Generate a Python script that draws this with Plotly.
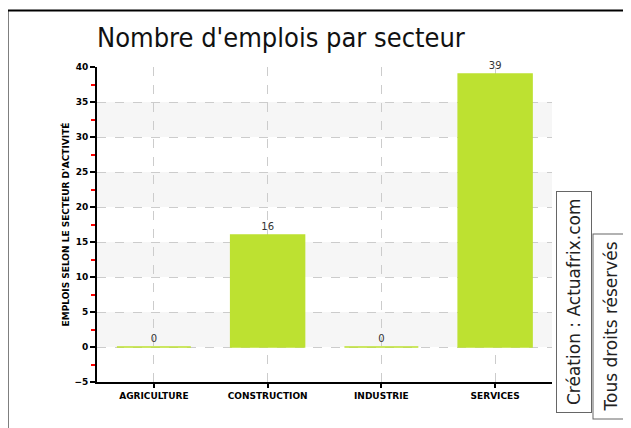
import plotly.graph_objects as go

categories = ["AGRICULTURE", "CONSTRUCTION", "INDUSTRIE", "SERVICES"]
values = [0, 16, 0, 39]
y_tick_values = [-5, 0, 5, 10, 15, 20, 25, 30, 35, 40]
title_text = "Nombre d'emplois par secteur"
y_title = "EMPLOIS SELON LE SECTEUR D'ACTIVITÉ"
credit_1 = "Création : Actuafrix.com"
credit_2 = "Tous droits réservés"

# page is offset by the 8px default body margin
OFF = 8
W, H = 631 - OFF, 428 - OFF
L, R, T, B = 97, 552, 67, 382  # plot area in page pixels


def px_x(px):
    return (px - L) / (R - L)


def px_y(py):
    return (B - py) / (B - T)


fig = go.Figure()
fig.add_trace(go.Bar(
    x=categories, y=values,
    marker=dict(color="#bde131", line=dict(color="#bde131", width=1.5)),
    text=[str(v) for v in values], textposition="outside",
    textfont=dict(family="DejaVu Sans", size=10, color="#333333"),
    cliponaxis=False, width=0.65,
))

shapes = []
for lo in [0, 10, 20, 30]:
    shapes.append(dict(type="rect", xref="paper", yref="y", x0=0, x1=1, y0=lo, y1=lo + 5,
                       fillcolor="#f6f6f6", line=dict(width=0), layer="below"))
shapes.append(dict(type="line", xref="paper", yref="paper", x0=px_x(7.5), x1=px_x(660),
                   y0=px_y(10.5), y1=px_y(10.5), line=dict(color="black", width=2)))
shapes.append(dict(type="line", xref="paper", yref="paper", x0=px_x(7.5), x1=px_x(7.5),
                   y0=px_y(10.5), y1=px_y(460), line=dict(color="black", width=2)))

annotations = [
    dict(text=credit_1, xref="paper", yref="paper", x=px_x(574), y=px_y(413),
         xanchor="center", yanchor="bottom", textangle=-90, showarrow=False,
         font=dict(family="DejaVu Sans", size=17, color="#222222"),
         bordercolor="#666666", borderwidth=1, borderpad=7, bgcolor="#ffffff"),
    dict(text=credit_2, xref="paper", yref="paper", x=px_x(610.5), y=px_y(420),
         xanchor="center", yanchor="bottom", textangle=-90, showarrow=False,
         font=dict(family="DejaVu Sans", size=17, color="#222222"),
         bordercolor="#666666", borderwidth=1, borderpad=7, bgcolor="#ffffff"),
]

fig.update_layout(
    width=W, height=H,
    margin=dict(l=L - OFF, r=W - (R - OFF), t=T - OFF, b=H - (B - OFF)),
    paper_bgcolor="white", plot_bgcolor="white",
    showlegend=False,
    bargap=0.35,
    title=dict(text=title_text, x=(97 - OFF) / W, xref="container", xanchor="left",
               y=1 - (38 - OFF) / H, yref="container", yanchor="middle",
               font=dict(family="DejaVu Sans Condensed, DejaVu Sans", size=27,
                         color="#111111")),
    shapes=shapes,
    annotations=annotations,
    xaxis=dict(
        showline=True, linecolor="black", linewidth=2,
        ticks="outside", ticklen=4, tickcolor="black", tickwidth=1.5,
        showgrid=True, gridcolor="#cccccc", griddash="dash", gridwidth=1,
        tickfont=dict(family="DejaVu Sans", size=9, color="black", weight="bold"),
        zeroline=False,
    ),
    yaxis=dict(
        range=[-5, 40], tickvals=y_tick_values,
        showline=True, linecolor="black", linewidth=2,
        ticks="outside", ticklen=5, tickcolor="black", tickwidth=1.5,
        showgrid=True, gridcolor="#cccccc", griddash="dash", gridwidth=1,
        zeroline=False,
        tickfont=dict(family="DejaVu Sans", size=9, color="black", weight="bold"),
        minor=dict(ticks="outside", ticklen=4, tickcolor="red", dtick=2.5, tick0=-2.5,
                   showgrid=False),
        title=dict(text=y_title, standoff=3,
                   font=dict(family="DejaVu Sans", size=9, color="black", weight="bold")),
    ),
)

fig.write_html("out.html")
